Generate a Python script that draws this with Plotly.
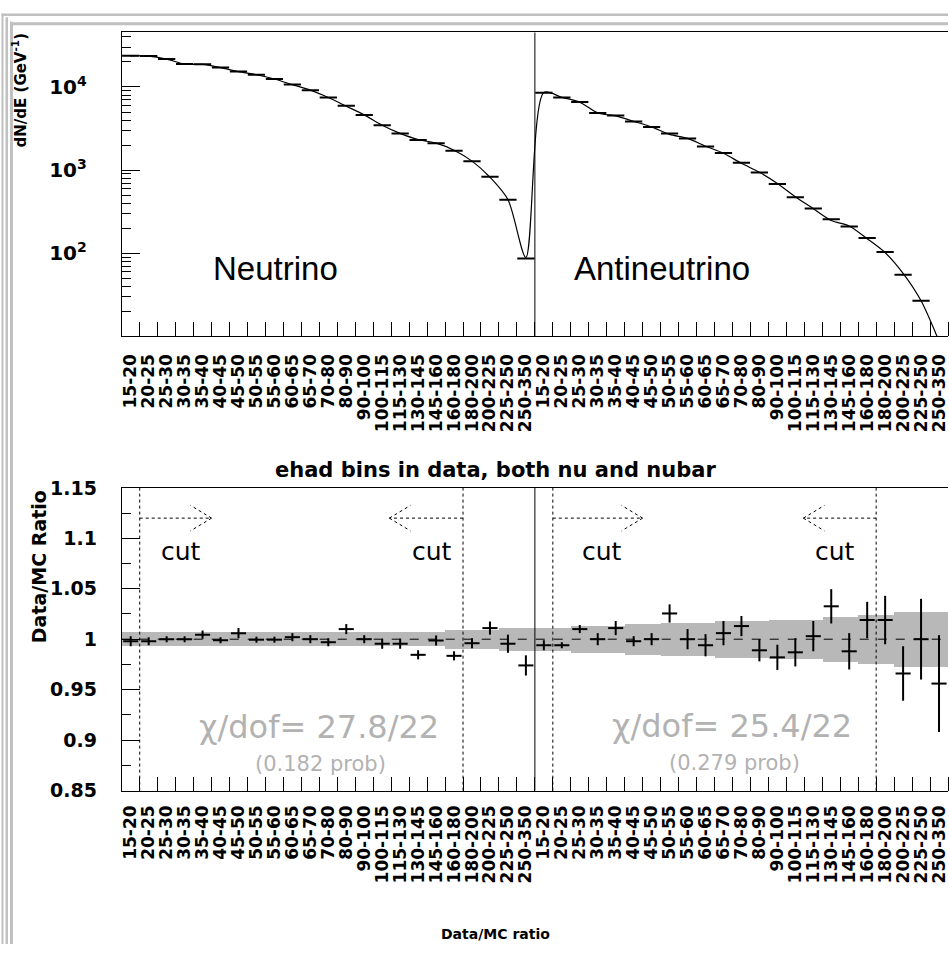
import plotly.graph_objects as go

W, H = 949, 955

# ---------------- data ----------------
bin_labels = ["15-20", "20-25", "25-30", "30-35", "35-40", "40-45", "45-50", "50-55",
              "55-60", "60-65", "65-70", "70-80", "80-90", "90-100", "100-115",
              "115-130", "130-145", "145-160", "160-180", "180-200", "200-225",
              "225-250", "250-350"]

# dN/dE (GeV^-1), data and MC, neutrino then antineutrino
nu_data = [23660, 23500, 21630, 18880, 18750, 17100, 15350, 14030, 12470, 10690, 9160,
           7460, 5940, 4620, 3460, 2760, 2300, 2110, 1710, 1280, 832, 442, 87]
nu_mc = [23700, 23550, 21630, 18880, 18670, 17120, 15260, 14040, 12480, 10670, 9160,
         7480, 5880, 4620, 3475, 2772, 2336, 2113, 1739, 1285, 823, 444, 89.3]
anu_data = [8550, 7460, 6620, 4875, 4540, 3855, 3310, 2760, 2410, 1930, 1610, 1225,
            935, 681, 474, 346, 257, 211, 153, 104, 55.5, 26.9, 8.4]
anu_mc = [8600, 7505, 6555, 4875, 4490, 3863, 3310, 2691, 2410, 1942, 1600, 1209,
          945, 693, 480, 345, 249, 213.6, 150, 102, 57.5, 26.9, 8.8]

# Data/MC ratio with errors
nu_ratio = [0.998, 0.998, 1.000, 1.000, 1.0045, 0.999, 1.006, 0.9995, 0.9995, 1.002,
            1.000, 0.997, 1.010, 1.000, 0.9955, 0.9955, 0.9845, 0.9987, 0.9835, 0.996,
            1.011, 0.9955, 0.974]
nu_ratio_err = [0.005, 0.004, 0.003, 0.003, 0.004, 0.003, 0.005, 0.003, 0.003, 0.004,
                0.004, 0.004, 0.005, 0.004, 0.005, 0.005, 0.0045, 0.005, 0.0045, 0.005,
                0.0065, 0.009, 0.010]
anu_ratio = [0.994, 0.994, 1.010, 1.000, 1.011, 0.998, 1.000, 1.0255, 1.000, 0.994,
             1.006, 1.013, 0.989, 0.982, 0.987, 1.003, 1.0326, 0.988, 1.019, 1.019,
             0.966, 1.000, 0.956]
anu_ratio_err = [0.005, 0.003, 0.004, 0.006, 0.007, 0.005, 0.006, 0.009, 0.010, 0.011,
                 0.012, 0.010, 0.011, 0.0125, 0.014, 0.015, 0.017, 0.018, 0.018, 0.024,
                 0.027, 0.040, 0.048]

# MC systematic band half-widths
nu_band = [0.007] * 18 + [0.009] * 3 + [0.011] * 2
anu_band = [0.011, 0.011, 0.013, 0.013, 0.013, 0.015, 0.015, 0.016, 0.016, 0.016,
            0.018, 0.018, 0.018, 0.019, 0.019, 0.019, 0.022, 0.022, 0.024, 0.024,
            0.027, 0.027, 0.027]

top_tick_values = [100, 1000, 10000]
top_tick_labels = ["10<sup>2</sup>", "10<sup>3</sup>", "10<sup>4</sup>"]
ratio_tick_values = [0.85, 0.9, 0.95, 1.0, 1.05, 1.1, 1.15]
ratio_tick_labels = ["0.85", "0.9", "0.95", "1", "1.05", "1.1", "1.15"]

cut_edges = [0.5, 18.5, 23.5, 41.5]

chi_texts = ["χ/dof= 27.8/22", "χ/dof= 25.4/22"]
prob_texts = ["(0.182 prob)", "(0.279 prob)"]

# ---------------- helpers ----------------
def px(x):
    return x / W


def py(y):
    return 1 - y / H


n_bins = len(bin_labels)
xs = list(range(2 * n_bins))
all_labels = bin_labels + bin_labels
all_data = nu_data + anu_data
all_mc = nu_mc + anu_mc
all_ratio = nu_ratio + anu_ratio
all_ratio_err = nu_ratio_err + anu_ratio_err
all_band = nu_band + anu_band

TICKFONT = dict(family="DejaVu Sans", size=17, color="black", weight="bold")
YFONT = dict(family="DejaVu Sans", size=19, color="black", weight="bold")

fig = go.Figure()

# top panel
fig.add_trace(go.Scatter(
    x=xs, y=all_mc, mode="lines", xaxis="x", yaxis="y",
    line=dict(color="black", width=1.2, shape="spline", smoothing=0.8),
    hoverinfo="skip", showlegend=False))
fig.add_trace(go.Scatter(
    x=xs, y=all_data, mode="markers", xaxis="x", yaxis="y",
    marker=dict(size=1, color="black"),
    error_x=dict(type="constant", value=0.48, width=0, thickness=2, color="black"),
    showlegend=False))

# bottom panel: band
fig.add_trace(go.Bar(
    x=xs, base=[1 - w for w in all_band], y=[2 * w for w in all_band],
    width=1.0, xaxis="x2", yaxis="y2",
    marker=dict(color="#b8b8b8", line=dict(width=0)), showlegend=False,
    hoverinfo="skip"))
fig.add_trace(go.Scatter(
    x=xs, y=all_ratio, mode="markers", xaxis="x2", yaxis="y2",
    marker=dict(size=1, color="black"),
    error_x=dict(type="constant", value=0.42, width=0, thickness=2, color="black"),
    error_y=dict(type="data", array=all_ratio_err, width=0, thickness=2, color="black"),
    showlegend=False))

xdom = [px(121), 1.0]
common_x = dict(
    domain=xdom, range=[-0.5, 2 * n_bins - 0.5], tickmode="array", tickvals=xs,
    ticktext=all_labels, tickangle=-90, ticks="", showline=True, mirror=True,
    linecolor="black", linewidth=1, showgrid=False, zeroline=False,
    tickfont=TICKFONT, ticklabeloverflow="allow",
    minor=dict(ticks="inside", tick0=0.5, dtick=1, ticklen=14, tickcolor="black",
               tickwidth=1, showgrid=False),
)

log_minor = [m * 10 ** e for e in range(1, 5) for m in range(2, 10) if m * 10 ** e < 45000]

fig.update_layout(
    width=W, height=H, margin=dict(l=0, r=0, t=0, b=0),
    paper_bgcolor="white", plot_bgcolor="white", bargap=0, showlegend=False,
    xaxis=dict(**common_x, anchor="y", ticklabelstandoff=10),
    yaxis=dict(domain=[py(333), py(22)], type="log", range=[1.003, 4.655],
               tickmode="array", tickvals=top_tick_values, ticktext=top_tick_labels,
               ticks="inside", ticklen=18, tickcolor="black", showline=True,
               linecolor="black", linewidth=1, showgrid=False, zeroline=False,
               tickfont=dict(family="DejaVu Sans", size=20, color="black", weight="bold"),
               ticklabelstandoff=30, anchor="x",
               minor=dict(tickmode="array", tickvals=log_minor, ticks="inside",
                          ticklen=9, tickcolor="black", showgrid=False)),
    xaxis2=dict(**common_x, anchor="y2", ticklabelstandoff=7),
    yaxis2=dict(domain=[py(798), py(488)], range=[0.8499, 1.1501],
                tickmode="array", tickvals=ratio_tick_values, ticktext=ratio_tick_labels,
                ticks="inside", ticklen=18, tickcolor="black", showline=True,
                linecolor="black", linewidth=1, showgrid=False, zeroline=False,
                tickfont=YFONT, ticklabelstandoff=20, anchor="x2",
                minor=dict(ticks="inside", tick0=0.85, dtick=0.025, ticklen=9,
                           tickcolor="black", showgrid=False)),
)

shapes = []
# gray page frame
gray = "#c0c0c0"
for (x0, x1) in [(0.5, 2.5), (4.5, 7), (9, 12)]:
    shapes.append(dict(type="rect", xref="paper", yref="paper", x0=px(x0), x1=px(x1),
                       y0=0, y1=py(x0 + 2), fillcolor=gray, line=dict(width=0), layer="below"))
for (y0, y1) in [(2.5, 5), (11.5, 14.5)]:
    shapes.append(dict(type="rect", xref="paper", yref="paper", x0=px(y0 - 2), x1=1,
                       y0=py(y1), y1=py(y0), fillcolor=gray, line=dict(width=0), layer="below"))

# central separation line in both panels
for xr, yr in [("x", "y domain"), ("x2", "y2 domain")]:
    shapes.append(dict(type="line", xref=xr, yref=yr, x0=n_bins - 0.5, x1=n_bins - 0.5,
                       y0=0, y1=1, line=dict(color="black", width=1), layer="above"))

# dashed unity line
shapes.append(dict(type="line", xref="x2 domain", yref="y2", x0=0, x1=1, y0=1, y1=1,
                   line=dict(color="black", width=1, dash="dash"), layer="above"))

# cut lines
for c in cut_edges:
    shapes.append(dict(type="line", xref="x2", yref="y2 domain", x0=c, x1=c, y0=0, y1=1,
                       line=dict(color="black", width=1, dash="dot"), layer="above"))

# arrows (dotted)
arrow_y = 1.12
head_dy = 0.0126
arrows = [(0.5, 4.5), (18.5, 14.4), (23.5, 28.5), (41.5, 37.45)]
for (a0, a1) in arrows:
    sgn = 1 if a1 > a0 else -1
    dline = dict(color="black", width=1, dash="dot")
    shapes.append(dict(type="line", xref="x2", yref="y2", x0=a0, x1=a1, y0=arrow_y,
                       y1=arrow_y, line=dline, layer="above"))
    for s in (1, -1):
        shapes.append(dict(type="line", xref="x2", yref="y2", x0=a1, x1=a1 - sgn * 1.17,
                           y0=arrow_y, y1=arrow_y + s * head_dy, line=dline, layer="above"))

fig.update_layout(shapes=shapes)

ann = []
def text(x, y, t, size, family="DejaVu Sans", color="black", weight="normal",
         angle=0, xanchor="center", yanchor="middle"):
    ann.append(dict(x=px(x), y=py(y), xref="paper", yref="paper", text=t,
                    showarrow=False, textangle=angle, xanchor=xanchor, yanchor=yanchor,
                    borderpad=0,
                    font=dict(family=family, size=size, color=color, weight=weight)))

text(275, 264, "Neutrino", 33, family="Liberation Sans")
text(662, 264, "Antineutrino", 33, family="Liberation Sans")
for cx in [180, 432, 602, 836]:
    text(cx, 553, "cut", 25)
text(319, 753, chi_texts[0], 32, color="#b2b2b2", yanchor="bottom")
text(320, 757, prob_texts[0], 21, color="#b2b2b2", yanchor="top")
text(733, 752, chi_texts[1], 32, color="#b2b2b2", yanchor="bottom")
text(735, 756, prob_texts[1], 21, color="#b2b2b2", yanchor="top")
text(496, 470, "ehad bins in data, both nu and nubar", 21, weight="bold")
text(496, 945, "Data/MC ratio", 14, weight="bold")
text(19, 22, "dN/dE (GeV<sup>-1</sup>)", 15, weight="bold", angle=-90, yanchor="top")
text(38, 489, "Data/MC Ratio", 19, weight="bold", angle=-90, yanchor="top")

fig.update_layout(annotations=ann)

fig.write_html("out.html")
